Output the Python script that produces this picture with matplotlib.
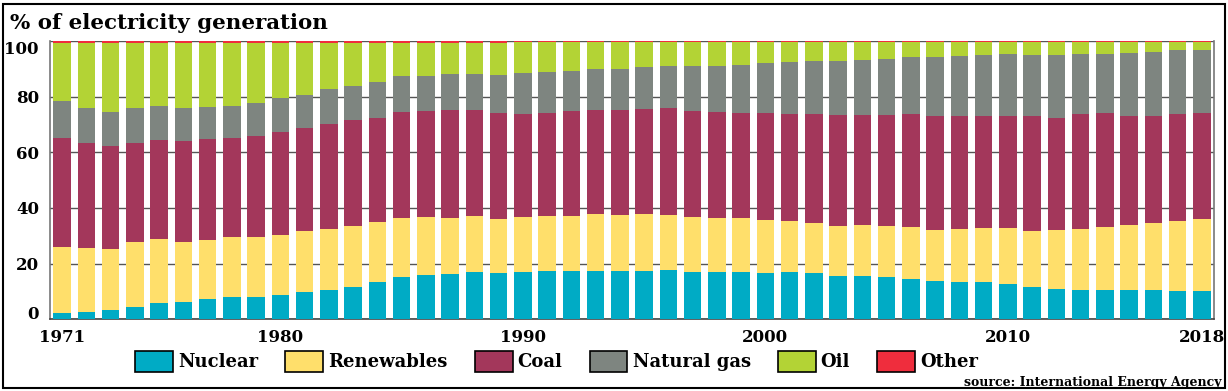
import matplotlib
matplotlib.use("Agg")
import matplotlib.pyplot as plt
import numpy as np
from matplotlib.patches import Rectangle, Patch

years = list(range(1971, 2019))

nuclear = [2.2, 2.6, 3.4, 4.4, 5.9, 6.3, 7.3, 8.1, 8.0, 8.6,
           9.9, 10.7, 11.6, 13.3, 15.2, 15.8, 16.4, 17.1, 16.6, 16.9,
           17.2, 17.2, 17.4, 17.4, 17.5, 17.6, 17.0, 17.0, 17.1, 16.6,
           16.9, 16.5, 15.7, 15.6, 15.1, 14.6, 13.6, 13.4, 13.3, 12.8,
           11.6, 10.8, 10.5, 10.5, 10.5, 10.4, 10.2, 10.2]
renewables = [23.7, 23.1, 21.7, 23.2, 22.9, 21.3, 21.2, 21.6, 21.7, 21.6,
              21.7, 21.9, 22.0, 21.6, 21.2, 20.9, 20.1, 20.0, 19.5, 19.7,
              19.8, 19.8, 20.3, 20.1, 20.3, 20.0, 19.9, 19.5, 19.2, 19.1,
              18.5, 18.2, 17.9, 18.3, 18.4, 18.6, 18.4, 19.0, 19.6, 19.9,
              20.2, 21.3, 22.1, 22.8, 23.3, 24.3, 25.0, 25.7]
coal = [39.2, 37.5, 37.3, 35.6, 35.7, 36.4, 36.3, 35.4, 36.2, 37.1,
        37.0, 37.7, 38.0, 37.4, 38.0, 38.1, 38.7, 38.2, 38.0, 37.2,
        37.3, 37.7, 37.6, 37.7, 37.6, 38.2, 38.1, 38.1, 37.9, 38.6,
        38.4, 38.9, 39.8, 39.4, 39.8, 40.5, 41.0, 40.6, 40.1, 40.2,
        41.1, 40.2, 41.1, 40.7, 39.1, 38.2, 38.5, 38.1]
natural_gas = [13.3, 12.9, 12.0, 12.6, 12.3, 12.0, 11.6, 11.5, 12.0, 12.1,
               12.0, 12.3, 12.2, 12.9, 12.9, 12.6, 12.9, 12.8, 13.6, 14.8,
               14.5, 14.5, 14.6, 14.8, 15.1, 15.2, 16.1, 16.4, 17.2, 17.7,
               18.6, 19.2, 19.5, 19.9, 20.3, 20.5, 21.2, 21.7, 21.9, 22.4,
               22.0, 22.5, 21.6, 21.5, 22.9, 23.1, 22.9, 22.8]
oil = [20.9, 23.2, 24.9, 23.5, 22.5, 23.3, 23.0, 22.8, 21.5, 20.0,
       18.8, 16.8, 15.6, 14.2, 12.1, 12.0, 11.3, 11.3, 11.7, 11.0,
       10.8, 10.4, 9.7, 9.6, 9.1, 8.6, 8.5, 8.6, 8.2, 7.6,
       7.2, 6.8, 6.7, 6.4, 6.0, 5.4, 5.4, 4.9, 4.7, 4.3,
       4.7, 4.8, 4.3, 4.1, 3.8, 3.6, 3.0, 2.8]
other = [0.7, 0.7, 0.7, 0.7, 0.7, 0.7, 0.6, 0.6, 0.6, 0.6,
         0.6, 0.6, 0.6, 0.6, 0.6, 0.6, 0.6, 0.6, 0.6, 0.4,
         0.4, 0.4, 0.4, 0.4, 0.4, 0.4, 0.4, 0.4, 0.4, 0.4,
         0.4, 0.4, 0.4, 0.4, 0.4, 0.4, 0.4, 0.4, 0.4, 0.4,
         0.4, 0.4, 0.4, 0.4, 0.4, 0.4, 0.4, 0.4]

series_names = ["Nuclear", "Renewables", "Coal", "Natural gas", "Oil", "Other"]
colors = ["#00abc5", "#ffdf6b", "#a3375b", "#7e8580", "#b3d335", "#ef2d3d"]
xtick_years = [1971, 1980, 1990, 2000, 2010, 2018]
ytick_vals = [0, 20, 40, 60, 80, 100]

W, H = 1228, 391
fig = plt.figure(figsize=(W / 100, H / 100), dpi=100)
ax = fig.add_axes([50 / W, 1 - 319.3 / H, (1214 - 50) / W, (319.3 - 41) / H])

serif = "DejaVu Serif"
data = [nuclear, renewables, coal, natural_gas, oil, other]
bottom = np.zeros(len(years))
for vals, c, name in zip(data, colors, series_names):
    v = np.array(vals)
    ax.bar(years, v, bottom=bottom, width=0.73, color=c, linewidth=0, zorder=3, label=name)
    bottom += v

ax.set_xlim(1970.5, 2018.5)
ax.set_ylim(0, 100)
ax.set_yticks(ytick_vals)
ax.set_xticks(xtick_years)
ax.set_xticklabels([str(y) for y in xtick_years], fontfamily=serif, fontsize=12, fontweight="bold")
ax.set_yticklabels([str(v) for v in ytick_vals], fontfamily=serif, fontsize=12, fontweight="bold")
ax.tick_params(axis="both", length=0)
ax.tick_params(axis="y", pad=8)
ax.tick_params(axis="x", pad=7)
for lab in ax.get_yticklabels():
    if lab.get_text() == "100":
        lab.set_va("top")
    elif lab.get_text() == "0":
        lab.set_va("baseline")
ax.grid(axis="y", color="#555555", linewidth=1, zorder=0)
ax.set_axisbelow(True)
ax.spines["top"].set_visible(False)
ax.spines["left"].set_color("#777777")
ax.spines["right"].set_color("#777777")
ax.spines["bottom"].set_color("#444444")
for s in ["left", "right", "bottom"]:
    ax.spines[s].set_linewidth(1.2)

fig.text(10 / W, 1 - 29 / H, "% of electricity generation", fontfamily=serif,
         fontweight="bold", fontsize=15.4, va="baseline", ha="left")

handles = [Patch(facecolor=c, edgecolor="black", linewidth=1.2) for c in colors]
fig.legend(handles, series_names, loc="upper left", bbox_to_anchor=(135 / W, 1 - 351 / H),
           ncol=6, frameon=False, prop={"family": serif, "size": 13, "weight": "bold"},
           handlelength=2.1, handleheight=1.38, handletextpad=0.28, columnspacing=1.5,
           borderpad=0, borderaxespad=0)

fig.text(1221 / W, 1 - 386 / H, "source: International Energy Agency", fontfamily=serif,
         fontweight="bold", fontsize=9, ha="right", va="baseline")

fig.add_artist(Rectangle((3 / W, 3 / H), 1 - 6 / W, 1 - 7 / H, transform=fig.transFigure,
                         fill=False, edgecolor="black", linewidth=1.5))

fig.savefig("out.png", dpi=100)
